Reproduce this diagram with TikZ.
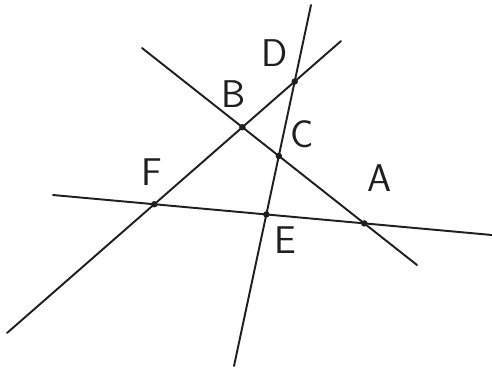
\documentclass[tikz,border=0pt]{standalone}
\usepackage{tikz}
\definecolor{penblack}{gray}{0.12}
\tikzset{
  sketchline/.style={draw=penblack,line width=1.1pt,line cap=round},
  ptdot/.style={circle,fill=penblack,inner sep=1.3pt},
  ptlabel/.style={font=\fontsize{22}{22}\selectfont\sffamily,text=penblack}
}

\begin{document}
\begin{tikzpicture}[x=0.02cm,y=-0.02cm]
        \useasboundingbox (0,0) rectangle (492,373);
        % ends of the four lines
        \coordinate (fdlow) at (7,333);
        \coordinate (fdup) at (341,41);
        \coordinate (balow) at (417,265);
        \coordinate (baup) at (142,48);
        \coordinate (vtop) at (311,5);
        \coordinate (vbot) at (234,366);
        \coordinate (hleft) at (53,195);
        \coordinate (hright) at (492,235);
        \draw[sketchline] (fdlow) -- (fdup);
        \draw[sketchline] (baup) -- (balow);
        \draw[sketchline] (vtop) -- (vbot);
        \draw[sketchline] (hleft) -- (hright);
        % crossing points
        \node[ptdot] (F) at (intersection of fdlow--fdup and hleft--hright) {};
        \node[ptdot] (B) at (intersection of fdlow--fdup and baup--balow) {};
        \node[ptdot] (D) at (intersection of fdlow--fdup and vtop--vbot) {};
        \node[ptdot] (C) at (intersection of baup--balow and vtop--vbot) {};
        \node[ptdot] (E) at (intersection of hleft--hright and vtop--vbot) {};
        \node[ptdot] (A) at (intersection of hleft--hright and baup--balow) {};
        % labels
        \node[ptlabel] (labD) at (275,53) {D};
        \node[ptlabel] (labB) at (234,94) {B};
        \node[ptlabel] (labC) at (302,134) {C};
        \node[ptlabel] (labF) at (152,172) {F};
        \node[ptlabel] (labA) at (380,178) {A};
        \node[ptlabel] (labE) at (285,240) {E};
      \end{tikzpicture}
\end{document}
